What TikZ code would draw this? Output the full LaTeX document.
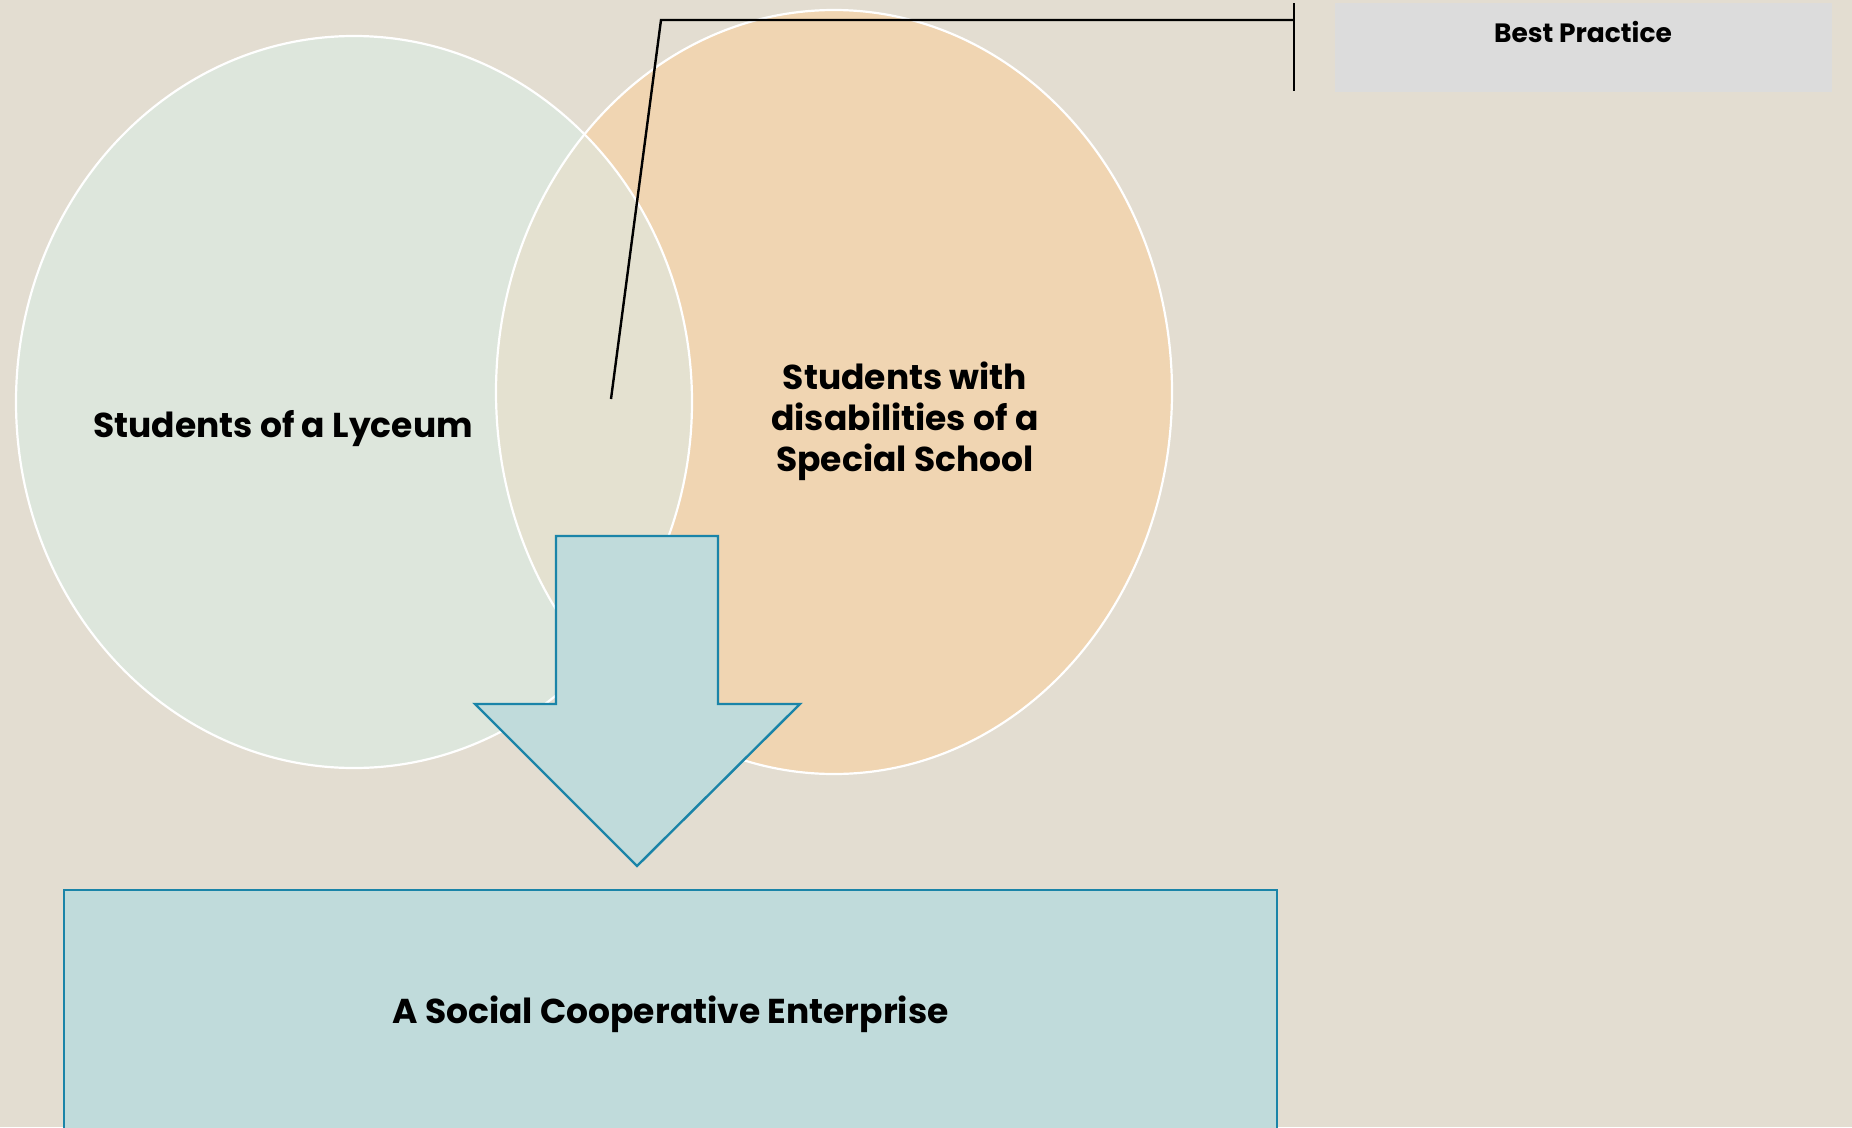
\documentclass[tikz,border=0pt]{standalone}
\usepackage{fontspec}
\setmainfont{Poppins}
\usetikzlibrary{positioning}
\definecolor{bgbeige}{HTML}{E3DDD1}
\definecolor{lyceumfill}{HTML}{DDE6DC}
\definecolor{schoolfill}{HTML}{F0D5B2}
\definecolor{overlapfill}{HTML}{E4E1D0}
\definecolor{tealfill}{HTML}{C0DBDB}
\definecolor{tealline}{HTML}{1A84A8}
\definecolor{greybox}{HTML}{DCDCDC}

\begin{document}
\begin{tikzpicture}[x=1pt,y=-1pt,
  venn/.style={draw=white,line width=2.2pt},
  bluebox/.style={draw=tealline,fill=tealfill,line width=2.4pt},
  bigtext/.style={font=\fontsize{34.5}{41}\selectfont\bfseries,align=center},
  smalltext/.style={font=\fontsize{26.5}{30}\selectfont\bfseries},
  callout/.style={black,line width=2.4pt}]
\fill[bgbeige] (0,0) rectangle (1852,1127);
\clip (0,0) rectangle (1852,1127);

% the two groups
\fill[schoolfill] (834,392) ellipse (338pt and 382pt);
\fill[lyceumfill] (354,402) ellipse (338pt and 366pt);
\begin{scope}
\clip (354,402) ellipse (338pt and 366pt);
\fill[overlapfill] (834,392) ellipse (338pt and 382pt);
\end{scope}
\draw[venn] (834,392) ellipse (338pt and 382pt);
\draw[venn] (354,402) ellipse (338pt and 366pt);

\node[bigtext] (lyceum) at (283,429) {Students of a Lyceum};
\node[bigtext] (school) at (905,421) {Students with\\disabilities of a\\Special School};

% arrow down to the enterprise
\draw[bluebox] (556,536) -- (718,536) -- (718,704) -- (800,704) -- (637,866)
  -- (475,704) -- (556,704) -- cycle;

\node[bluebox,bigtext,minimum width=1213pt,minimum height=248pt,inner sep=0pt]
  (enterprise) at (670.5,1014) {A Social Cooperative Enterprise};

% callout
\node[fill=greybox,minimum width=497pt,minimum height=89pt,inner sep=0pt,anchor=north west]
  (bestbox) at (1335,3) {};
\node[smalltext] (best) at (1583,32) {Best Practice};
\coordinate (pin) at (611,399);
\coordinate (knee) at (661,20);
\coordinate (barmid) at (1294,20);
\coordinate (bartop) at (1294,3);
\coordinate (barbot) at (1294,91);
\draw[callout] (pin) -- (knee) -- (barmid);
\draw[callout] (bartop) -- (barbot);
\end{tikzpicture}
\end{document}
